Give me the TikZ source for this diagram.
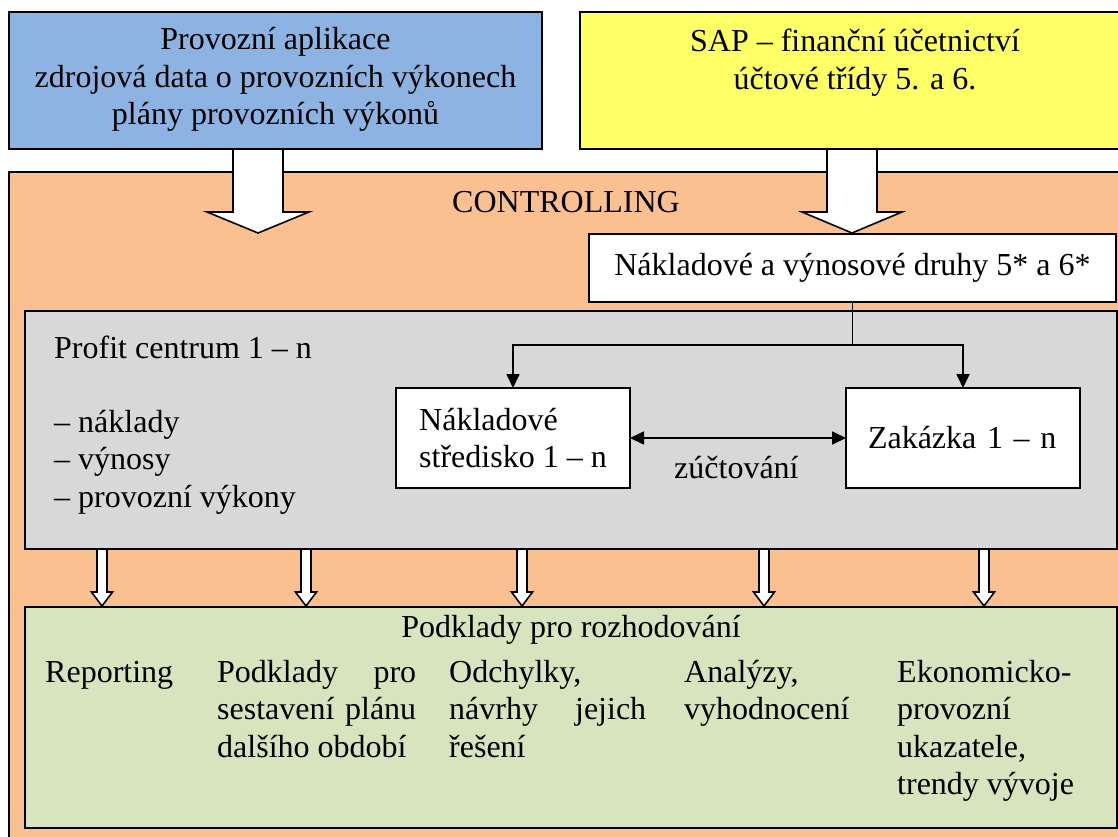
\documentclass[tikz,border=0pt]{standalone}
\usepackage{fontspec}
\setmainfont{Liberation Serif}
\usetikzlibrary{arrows.meta}

\definecolor{srcblue}{HTML}{8DB3E2}
\definecolor{srcyellow}{HTML}{FFFF66}
\definecolor{ctrlorange}{HTML}{FAC090}
\definecolor{pcgray}{HTML}{D8D8D8}
\definecolor{outgreen}{HTML}{D7E4BD}

\tikzset{
  every node/.append style={font=\rmfamily\fontsize{32}{37.5}\selectfont},
  box/.style={draw=black, line width=1.6pt, anchor=north west, inner sep=0pt, outer sep=0pt},
  txt/.style={inner sep=0pt, anchor=base west},
  ctxt/.style={inner sep=0pt, anchor=base},
  blockarrow/.style={draw=black, fill=white, line width=1.6pt, line join=miter},
  link/.style={line width=1.7pt},
  tip/.style={-{Triangle[length=14pt,width=13pt]}},
  twotips/.style={{Triangle[length=14pt,width=13pt]}-{Triangle[length=14pt,width=13pt]}},
}

% hollow block arrow pointing down: x, top, head start, tip, half shaft, half head
\newcommand\blockdown[6]{%
  \filldraw[blockarrow] (#1-#5,#2) -- (#1-#5,#3) -- (#1-#6,#3) -- (#1,#4)
    -- (#1+#6,#3) -- (#1+#5,#3) -- (#1+#5,#2);}

\begin{document}
\begin{tikzpicture}[x=1pt,y=-1pt]
\useasboundingbox (0,0) rectangle (1118,837);
\clip (0,0) rectangle (1118,837);

% controlling frame
\node[box, fill=ctrlorange, minimum width=1121pt, minimum height=678pt] (ctrlframe) at (9,172) {};
\node[ctxt] (ctrl) at (566,212) {CONTROLLING};

% arrows between the layers
\blockdown{258}{149}{212}{233}{25}{51}
\blockdown{852}{149}{212}{233}{25}{50}
\foreach \ax in {102,306,522,764,984}
  \blockdown{\ax}{549}{592}{606}{5}{10.5};

% source systems
\node[box, fill=srcblue, minimum width=533pt, minimum height=137pt] (ops) at (9,12) {};
\node[ctxt] (opstext) at (275.5,50)
  {\begin{tabular}[t]{@{}c@{}}Provozní aplikace\\zdrojová data o provozních výkonech\\plány provozních výkonů\end{tabular}};
\node[box, fill=srcyellow, minimum width=550pt, minimum height=137pt] (sap) at (580,12) {};
\node[ctxt] (saptext) at (855,52)
  {\begin{tabular}[t]{@{}c@{}}SAP – finanční účetnictví\\účtové třídy 5. a 6.\end{tabular}};

% cost and revenue types
\node[box, fill=white, minimum width=527pt, minimum height=68pt] (nak) at (589,234)
  {Nákladové a výnosové druhy 5* a 6*};

% profit centre
\node[box, fill=pcgray, minimum width=1092pt, minimum height=238pt] (pcframe) at (25,311) {};
\node[txt] (pc) at (54,358) {Profit centrum 1 – n};
\node[txt] (pcitems) at (54,432)
  {\begin{tabular}[t]{@{}l@{}}– náklady\\– výnosy\\– provozní výkony\end{tabular}};
\node[box, fill=white, minimum width=234pt, minimum height=100pt, align=left] (ns) at (396,388)
  {Nákladové\\středisko 1 – n};
\node[box, fill=white, minimum width=234pt, minimum height=100pt, inner xsep=21pt,
  text width=190pt, align=left] (zak) at (846,388) {Zakázka 1 – n};
\node[txt] (zuct) at (674,478) {zúčtování};

\draw[link] (nak.south) -- ++(0,43) coordinate (split);
\draw[link, tip] (split) -| (ns.north);
\draw[link, tip] (split) -| (zak.north);
\draw[link, twotips] (ns.east) -- (zak.west);

% decision support
\node[box, fill=outgreen, minimum width=1092pt, minimum height=221pt] (outframe) at (25,607) {};
\node[ctxt] (outtitle) at (571,637) {Podklady pro rozhodování};
\node[txt] (rep) at (45,682) {Reporting};
\node[txt] (plan) at (217,682)
  {\begin{tabular}[t]{@{}l@{}}\hbox to 199pt{Podklady\hfill pro}\\
   \hbox to 199pt{sestavení\hfill plánu}\\dalšího období\end{tabular}};
\node[txt] (dev) at (449,682)
  {\begin{tabular}[t]{@{}l@{}}Odchylky,\\\hbox to 197pt{návrhy\hfill jejich}\\řešení\end{tabular}};
\node[txt] (ana) at (684,682)
  {\begin{tabular}[t]{@{}l@{}}Analýzy,\\vyhodnocení\end{tabular}};
\node[txt] (kpi) at (897,682)
  {\begin{tabular}[t]{@{}l@{}}Ekonomicko-\\provozní\\ukazatele,\\trendy vývoje\end{tabular}};
\end{tikzpicture}
\end{document}
